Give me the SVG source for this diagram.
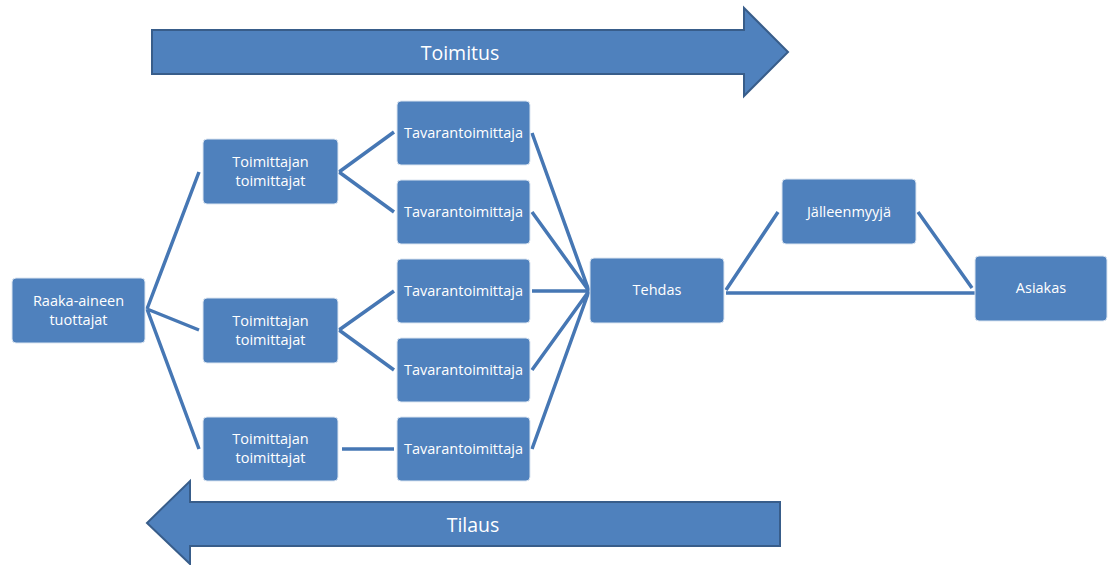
<svg xmlns="http://www.w3.org/2000/svg" width="1108" height="565" viewBox="0 0 1108 565">
<style>
.box{fill:#4f81bd;stroke:#dbe5f1;stroke-width:1}
.t{fill:#ffffff;font-family:"Open Sans","Liberation Sans",sans-serif;font-size:14.5px;text-anchor:middle}
.big{fill:#ffffff;font-family:"Open Sans","Liberation Sans",sans-serif;font-size:19.5px;text-anchor:middle}
.arr{fill:#4f81bd;stroke:#385d8a;stroke-width:2;stroke-linejoin:miter}
.c{stroke:#4677b4;stroke-width:3.5;fill:none;stroke-linecap:butt}
</style>
<rect width="1108" height="565" fill="#ffffff"/>
<g id="toimitus">
<path class="arr" d="M152,30 L744,30 L744,8 L788,52 L744,96 L744,74 L152,74 Z"/>
<text class="big" x="460" y="60">Toimitus</text>
</g>
<g id="tilaus">
<path class="arr" d="M780,502 L190,502 L190,481 L147,523 L190,564 L190,546 L780,546 Z"/>
<text class="big" x="473" y="532">Tilaus</text>
</g>
<g id="connectors">
<path class="c" d="M147,309 L199,172 M147,309 L199,330 M147,309 L199,449"/>
<path class="c" d="M339,172 L394,132 M339,172 L394,212"/>
<path class="c" d="M339,330 L394,291 M339,330 L394,370"/>
<path class="c" d="M342,449 L394,449"/>
<path class="c" d="M532,133 L589,291 M532,212 L589,291 M532,291 L589,291 M532,370 L589,291 M532,449 L589,291"/>
<path class="c" d="M726,290 L778,212 M918,212 L972,288 M726,293 L976,293"/>
</g>
<g id="raaka"><rect class="box" x="12" y="278" width="133" height="65" rx="4"/><text class="t" x="78.5" y="306">Raaka-aineen</text><text class="t" x="78.5" y="325">tuottajat</text></g>
<g id="tt1"><rect class="box" x="203" y="139" width="135" height="65" rx="4"/><text class="t" x="270.5" y="167">Toimittajan</text><text class="t" x="270.5" y="186">toimittajat</text></g>
<g id="tt2"><rect class="box" x="203" y="298" width="135" height="65" rx="4"/><text class="t" x="270.5" y="326">Toimittajan</text><text class="t" x="270.5" y="345">toimittajat</text></g>
<g id="tt3"><rect class="box" x="203" y="417" width="135" height="64" rx="4"/><text class="t" x="270.5" y="444">Toimittajan</text><text class="t" x="270.5" y="463">toimittajat</text></g>
<g id="tav1"><rect class="box" x="397" y="101" width="133" height="64" rx="4"/><text class="t" x="463.5" y="138">Tavarantoimittaja</text></g>
<g id="tav2"><rect class="box" x="397" y="180" width="133" height="64" rx="4"/><text class="t" x="463.5" y="217">Tavarantoimittaja</text></g>
<g id="tav3"><rect class="box" x="397" y="259" width="133" height="64" rx="4"/><text class="t" x="463.5" y="296">Tavarantoimittaja</text></g>
<g id="tav4"><rect class="box" x="397" y="338" width="133" height="64" rx="4"/><text class="t" x="463.5" y="375">Tavarantoimittaja</text></g>
<g id="tav5"><rect class="box" x="397" y="417" width="133" height="64" rx="4"/><text class="t" x="463.5" y="454">Tavarantoimittaja</text></g>
<g id="tehdas"><rect class="box" x="590" y="258" width="134" height="65" rx="4"/><text class="t" x="657" y="295">Tehdas</text></g>
<g id="jalleenmyyja"><rect class="box" x="782" y="179" width="134" height="65" rx="4"/><text class="t" x="849" y="217">Jälleenmyyjä</text></g>
<g id="asiakas"><rect class="box" x="975" y="256" width="132" height="65" rx="4"/><text class="t" x="1041" y="293">Asiakas</text></g>
</svg>
